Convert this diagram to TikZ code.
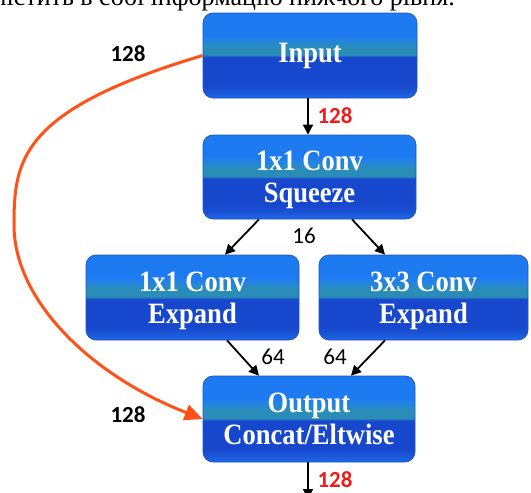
\documentclass[tikz,border=0pt]{standalone}
\usepackage{fontspec}
\setmainfont{Liberation Serif}
\newfontfamily\boxfont[FakeStretch=0.9]{Liberation Serif}
\newfontfamily\numfont{Carlito}
\usetikzlibrary{arrows.meta}

\definecolor{bxtop}{HTML}{1E7AF0}
\definecolor{bxtopb}{HTML}{2383E4}
\definecolor{bxteal}{HTML}{2A8DB8}
\definecolor{bxdark}{HTML}{1747CC}
\definecolor{bxmid}{HTML}{1A55D6}
\definecolor{bxbot}{HTML}{1E67E7}
\definecolor{bxedge}{HTML}{1A53C4}
\definecolor{skipline}{HTML}{FF5219}
\definecolor{numred}{HTML}{EE1C1C}

% layered blue fill of the module boxes (box spans 25bp..75bp)
\pgfdeclareverticalshading{firebox}{100bp}{%
  color(0bp)=(bxbot); color(25bp)=(bxbot); color(29bp)=(bxmid);
  color(33bp)=(bxdark); color(49bp)=(bxdark); color(50.5bp)=(bxteal);
  color(55bp)=(bxteal); color(59.5bp)=(bxtopb); color(62bp)=(bxtop);
  color(75bp)=(bxtop); color(100bp)=(bxtop)}

\tikzset{
  modbox/.style={shading=firebox, draw=bxedge, line width=0.7pt,
    rounded corners=10pt, inner sep=0pt, align=center, text=white,
    font=\boxfont\bfseries\fontsize{29.5}{32}\selectfont},
  twoline/.style={text depth=0pt},
  flow/.style={line width=1.8pt, -{Triangle[length=10pt,width=10pt]}},
  skip/.style={draw=skipline, line width=3pt,
    -{Triangle[length=18pt,width=16pt,fill=skipline]}},
  chan/.style={font=\numfont\fontsize{23}{25}\selectfont},
  chanbold/.style={font=\numfont\bfseries\fontsize{23}{25}\selectfont},
}

\begin{document}
\begin{tikzpicture}[x=1pt,y=-1pt]
\useasboundingbox (0,0) rectangle (531,493);

% tail of the preceding paragraph
\node[anchor=base east, inner sep=0pt, font=\fontsize{26}{28}\selectfont]
  (caption) at (455,5.5) {містить в собі інформацію нижчого рівня.};

% module boxes
\node[modbox, minimum width=214pt, minimum height=85pt] (input) at (310,55.5) {Input};
\node[modbox, twoline, minimum width=213pt, minimum height=84pt] (sq) at (309.5,177) {1x1 Conv\\Squeeze};
\node[modbox, twoline, minimum width=213pt, minimum height=85pt] (le) at (192.5,297.5) {1x1 Conv\\Expand};
\node[modbox, twoline, minimum width=209pt, minimum height=85pt] (re) at (423.5,297.5) {3x3 Conv\\Expand};
\node[modbox, twoline, minimum width=212pt, minimum height=86pt] (out) at (309,419) {Output\\Concat/Eltwise};
\coordinate (next) at (308,499);

% main data path
\draw[flow] ([xshift=-2pt]input.south) -- ([xshift=-1.5pt]sq.north);
\draw[flow] ([xshift=-50.5pt]sq.south) -- ([xshift=32.5pt]le.north);
\draw[flow] ([xshift=42.5pt]sq.south) -- ([xshift=-38.5pt]re.north);
\draw[flow] ([xshift=34.5pt]le.south) -- ([xshift=-50pt]out.north);
\draw[flow] ([xshift=-38.5pt]re.south) -- ([xshift=42pt]out.north);
\draw[flow] ([xshift=-1pt]out.south) -- (next);

% bypass connection
\draw[skip] (input.west) .. controls (20,110) and (14,160) .. (14,225)
  .. controls (14,300) and (90,375) .. (out.west);

% channel counts
\node[chanbold, text=numred] (c1) at (335,116) {128};
\node[chanbold, text=numred] (c2) at (335,480) {128};
\node[chanbold] (c3) at (128,54) {128};
\node[chanbold] (c4) at (128,415) {128};
\node[chan] (c5) at (304,236) {16};
\node[chan] (c6) at (273,357) {64};
\node[chan] (c7) at (335,357) {64};
\end{tikzpicture}
\end{document}
